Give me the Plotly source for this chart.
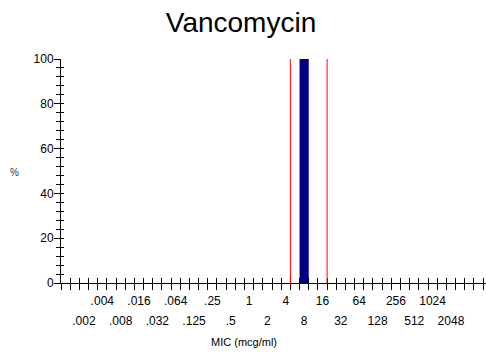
import plotly.graph_objects as go

# ---- data ----
mic_labels = [".002", ".004", ".008", ".016", ".032", ".064", ".125", ".25", ".5",
              "1", "2", "4", "8", "16", "32", "64", "128", "256", "512", "1024", "2048"]
percent = [0, 0, 0, 0, 0, 0, 0, 0, 0, 0, 0, 0, 100, 0, 0, 0, 0, 0, 0, 0, 0]
breakpoints = ["4", "16"]          # red breakpoint lines (drawn at right edge of category)
y_tick_values = list(range(0, 101, 4))
y_major_values = [0, 20, 40, 60, 80, 100]
title_text = "Vancomycin"
x_title = "MIC (mcg/ml)"
y_title = "%"

# ---- layout helpers ----
idx = list(range(len(mic_labels)))
XR = [-1.25, 21.91]
YR = [0, 100]
FONT = "Liberation Sans, Arial, sans-serif"

fig = go.Figure()
fig.add_trace(go.Bar(x=idx, y=percent, width=0.5, marker=dict(color="#000080", line=dict(width=0)),
                     showlegend=False, hoverinfo="skip"))

def ghost(xa, ya):
    fig.add_trace(go.Scatter(x=[0], y=[0], xaxis=xa, yaxis=ya, mode="markers",
                             marker=dict(opacity=0), showlegend=False, hoverinfo="skip"))

ghost("x2", "y2")
ghost("x3", "y3")
ghost("x4", "y")

# breakpoint lines
for bp in breakpoints:
    k = mic_labels.index(bp) + 0.25
    fig.add_shape(type="line", xref="x", yref="y", x0=k, x1=k, y0=YR[0], y1=YR[1],
                  line=dict(color="red", width=1))

odd = [i for i in idx if i % 2 == 1]
even = [i for i in idx if i % 2 == 0]

common_x = dict(range=XR, fixedrange=True, showgrid=False, zeroline=False, automargin=False)
common_y = dict(range=YR, fixedrange=True, showgrid=False, zeroline=False, automargin=False)
tickfont = dict(family=FONT, size=12, color="black")

fig.update_layout(
    width=486, height=355,
    margin=dict(l=61, r=0, t=59, b=72, pad=0, autoexpand=False),
    paper_bgcolor="white", plot_bgcolor="white",
    title=dict(text=title_text, x=241/486, xanchor="center", y=1-12/355, yanchor="top",
               font=dict(family=FONT, size=28, color="black"), automargin=False),
    xaxis=dict(**common_x, showline=True, linecolor="black", linewidth=1,
               tickmode="linear", tick0=-1.25, dtick=0.5, ticks="outside", ticklen=6,
               tickcolor="black", tickwidth=1, showticklabels=False),
    xaxis2=dict(**common_x, overlaying="x", anchor="y2", side="bottom", showline=False,
                tickmode="linear", tick0=-1.25, dtick=0.5, ticks="inside", ticklen=5,
                tickcolor="black", tickwidth=1, showticklabels=False),
    xaxis3=dict(**common_x, overlaying="x", anchor="y3", side="bottom", showline=False,
                tickmode="array", tickvals=odd, ticktext=[mic_labels[i] for i in odd],
                ticks="", tickfont=tickfont, ticklabelstandoff=9),
    xaxis4=dict(**common_x, overlaying="x", anchor="y", side="bottom", showline=False,
                tickmode="array", tickvals=even, ticktext=[mic_labels[i] for i in even],
                ticks="", tickfont=tickfont, ticklabelstandoff=29),
    yaxis=dict(**common_y, showline=True, linecolor="black", linewidth=1,
               tickmode="array", tickvals=y_tick_values,
               ticktext=[str(v) if v in y_major_values else "" for v in y_tick_values],
               ticks="outside", ticklen=4, tickcolor="black", tickwidth=1, tickfont=tickfont),
    yaxis2=dict(**common_y, overlaying="y", anchor="x2", side="left", showline=False,
                tickmode="array", tickvals=y_major_values, ticks="outside", ticklen=6,
                tickcolor="black", tickwidth=1, showticklabels=False),
    yaxis3=dict(**common_y, overlaying="y", anchor="x3", side="left", showline=False,
                tickmode="array", tickvals=y_tick_values, ticks="inside", ticklen=3,
                tickcolor="black", tickwidth=1, showticklabels=False),
    annotations=[
        dict(text=x_title, xref="paper", yref="paper", x=(244-61)/425, y=-(342-283)/224,
             xanchor="center", yanchor="middle", showarrow=False,
             font=dict(family=FONT, size=11, color="black")),
        dict(text=y_title, xref="paper", yref="paper", x=-(61-14)/425, y=(283-172)/224,
             xanchor="center", yanchor="middle", showarrow=False,
             font=dict(family=FONT, size=10, color="#333")),
    ],
)

fig.write_html("out.html", config={"displayModeBar": False},
               post_script="document.body.style.margin='0';")
